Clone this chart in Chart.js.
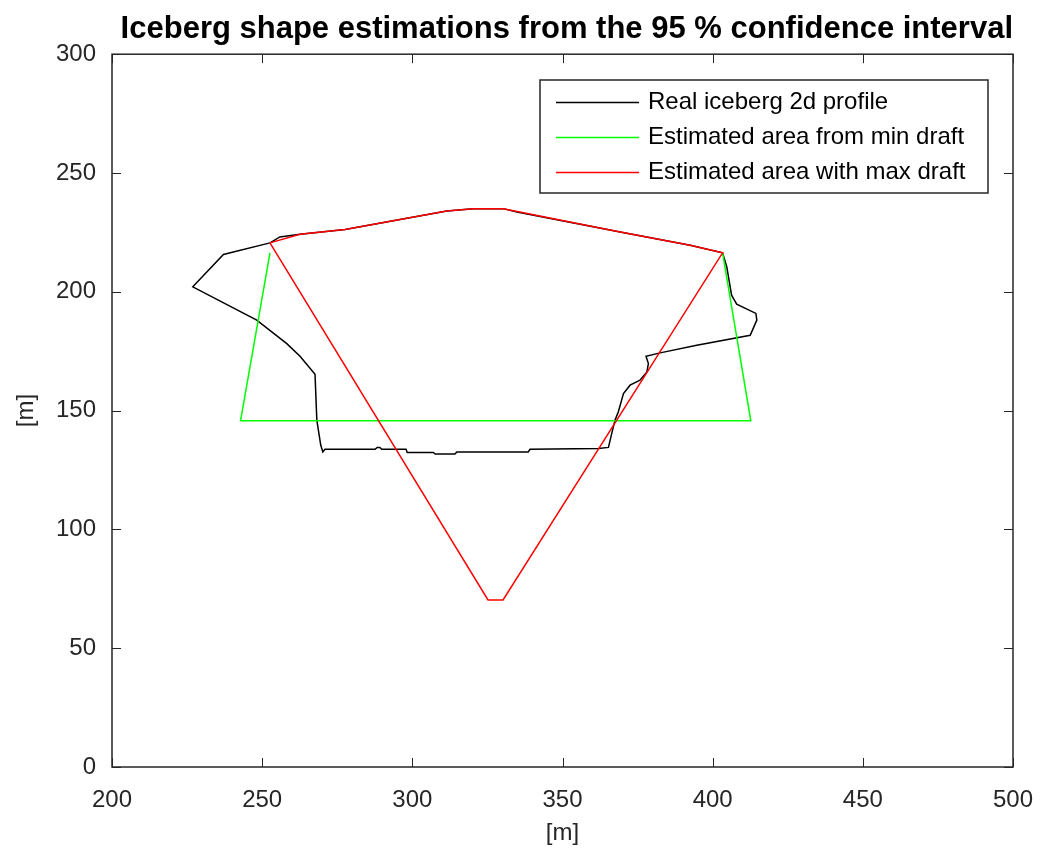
<!DOCTYPE html>
<html>
<head>
<meta charset="utf-8">
<script src="https://cdn.jsdelivr.net/npm/chart.js@4/dist/chart.umd.min.js"></script>
<style>
  html, body { margin: 0; padding: 0; background: #fff; }
  #wrap { width: 1041px; height: 856px; }
</style>
</head>
<body>
<div id="wrap"><canvas id="chart" width="1041" height="856"></canvas></div>
<script>
// Real iceberg 2d profile (closed outline)
const profileX = [252.6, 237.1, 226.9, 248.2, 258.2, 262.6, 267.6, 268.2, 269.5, 270.2, 270.9, 287.6, 288.3, 289.2, 289.8, 297.9, 298.3, 307.0, 307.6, 314.2, 314.8, 338.6, 339.2, 361.9, 365.3, 366.4, 367.5, 368.6, 370.3, 372.5, 375.8, 378.1, 378.6, 377.8, 382.5, 394.7, 412.5, 413.5, 414.7, 414.4, 408.0, 406.3, 404.7, 403.3, 392.5, 369.2, 334.8, 330.3, 320.3, 311.5, 295.9, 277.6, 262.6, 255.9, 252.6];
const profileY = [220.6, 215.7, 202.1, 188.1, 178.2, 172.9, 165.3, 146.0, 135.5, 132.6, 133.7, 133.7, 134.5, 134.5, 133.7, 133.7, 132.4, 132.4, 131.7, 131.7, 132.6, 132.6, 133.7, 134.1, 134.5, 140.4, 146.0, 149.5, 157.2, 160.7, 162.8, 166.3, 169.8, 172.9, 174.3, 177.5, 181.7, 184.6, 188.1, 190.9, 194.8, 198.6, 210.5, 216.4, 219.6, 225.2, 233.6, 235.0, 235.0, 234.0, 230.4, 226.2, 224.2, 223.1, 220.6];

// Estimated area from min draft (open at the top)
const minDraftX = [252.6, 242.8, 412.7, 403.3];
const minDraftY = [216.4, 145.7, 145.7, 216.4];

// Estimated area with max draft
const maxDraftX = [252.6, 262.6, 277.6, 295.9, 311.5, 320.3, 330.3, 369.2, 392.5, 403.3, 330.2, 325.2, 252.6];
const maxDraftY = [220.6, 224.2, 226.2, 230.4, 234.0, 235.0, 235.0, 225.2, 219.6, 216.4, 70.3, 70.3, 220.6];

const seriesLabels = ['Real iceberg 2d profile', 'Estimated area from min draft', 'Estimated area with max draft'];
const xTicks = [200, 250, 300, 350, 400, 450, 500];
const yTicks = [0, 50, 100, 150, 200, 250, 300];

const axisColor = '#262626';
const fontFamily = '"Liberation Sans", Arial, Helvetica, sans-serif';

function toPoints(xs, ys) {
    return xs.map((x, i) => ({ x: x, y: ys[i] }));
}

// box + inward ticks, matlab style
const boxPlugin = {
    id: 'boxPlugin',
    afterDatasetsDraw(chart) {
        const ctx = chart.ctx;
        const a = chart.chartArea;
        const xs = chart.scales.x;
        const ys = chart.scales.y;
        const tick = 9;
        ctx.save();
        ctx.strokeStyle = axisColor;
        ctx.lineWidth = 1.5;
        ctx.strokeRect(a.left, a.top, a.right - a.left, a.bottom - a.top);
        ctx.lineWidth = 1;
        ctx.beginPath();
        xTicks.forEach(v => {
            const px = Math.round(xs.getPixelForValue(v)) + 0.5;
            ctx.moveTo(px, a.bottom); ctx.lineTo(px, a.bottom - tick);
            ctx.moveTo(px, a.top); ctx.lineTo(px, a.top + tick);
        });
        yTicks.forEach(v => {
            const py = Math.round(ys.getPixelForValue(v)) + 0.5;
            ctx.moveTo(a.left, py); ctx.lineTo(a.left + tick, py);
            ctx.moveTo(a.right, py); ctx.lineTo(a.right - tick, py);
        });
        ctx.stroke();
        ctx.restore();
    }
};

// legend box in the top right corner of the axes
const legendBox = {
    id: 'legendBox',
    afterDraw(chart) {
        const ctx = chart.ctx;
        const left = 540, top = 80, right = 988, bottom = 193;
        ctx.save();
        ctx.fillStyle = '#fff';
        ctx.fillRect(left, top, right - left, bottom - top);
        ctx.strokeStyle = axisColor;
        ctx.lineWidth = 1.5;
        ctx.strokeRect(left, top, right - left, bottom - top);
        ctx.font = '24px ' + fontFamily;
        ctx.textBaseline = 'middle';
        ctx.textAlign = 'left';
        chart.data.datasets.forEach((ds, i) => {
            const y = 102 + i * 35;
            ctx.strokeStyle = ds.borderColor;
            ctx.lineWidth = 1.5;
            ctx.beginPath();
            ctx.moveTo(556, y + 0.5);
            ctx.lineTo(639, y + 0.5);
            ctx.stroke();
            ctx.fillStyle = '#000';
            ctx.fillText(ds.label, 648, y);
        });
        ctx.restore();
    }
};

const ctx = document.getElementById('chart');
new Chart(ctx, {
    type: 'scatter',
    data: {
        datasets: [
            {
                label: seriesLabels[0],
                data: toPoints(profileX, profileY),
                borderColor: '#000000',
                order: 3
            },
            {
                label: seriesLabels[1],
                data: toPoints(minDraftX, minDraftY),
                borderColor: '#00ff00',
                order: 2
            },
            {
                label: seriesLabels[2],
                data: toPoints(maxDraftX, maxDraftY),
                borderColor: '#ff0000',
                order: 1
            }
        ]
    },
    options: {
        responsive: false,
        animation: false,
        showLine: true,
        elements: {
            point: { radius: 0, hoverRadius: 0 },
            line: { borderWidth: 1.5, tension: 0, fill: false }
        },
        layout: { padding: { left: 0, right: 28, top: 0, bottom: 0 } },
        plugins: {
            legend: { display: false },
            tooltip: { enabled: false },
            title: {
                display: true,
                align: 'end',
                text: 'Iceberg shape estimations from the 95 % confidence interval',
                color: '#000',
                font: { family: fontFamily, size: 31, weight: 'bold' },
                padding: { top: 11, bottom: 6 }
            }
        },
        scales: {
            x: {
                type: 'linear',
                min: 200,
                max: 500,
                afterFit(scale) {
                    scale.height = 89;
                    scale.paddingLeft = 0;
                    scale.paddingRight = 0;
                },
                afterBuildTicks(scale) { scale.ticks = xTicks.map(v => ({ value: v })); },
                grid: { display: false, drawTicks: false },
                border: { display: false },
                ticks: {
                    color: axisColor,
                    font: { family: fontFamily, size: 24 },
                    padding: 19,
                    maxRotation: 0
                },
                title: {
                    display: true,
                    text: '[m]',
                    color: axisColor,
                    font: { family: fontFamily, size: 24 },
                    padding: { top: 0, bottom: 8 }
                }
            },
            y: {
                type: 'linear',
                min: 0,
                max: 300,
                afterFit(scale) { scale.width = 112; },
                afterBuildTicks(scale) { scale.ticks = yTicks.map(v => ({ value: v })); },
                grid: { display: false, drawTicks: false },
                border: { display: false },
                ticks: {
                    color: axisColor,
                    font: { family: fontFamily, size: 24 },
                    padding: 16
                },
                title: {
                    display: true,
                    text: '[m]',
                    color: axisColor,
                    font: { family: fontFamily, size: 24 },
                    padding: { top: 12, bottom: 0 }
                }
            }
        }
    },
    plugins: [boxPlugin, legendBox]
});
</script>
</body>
</html>
